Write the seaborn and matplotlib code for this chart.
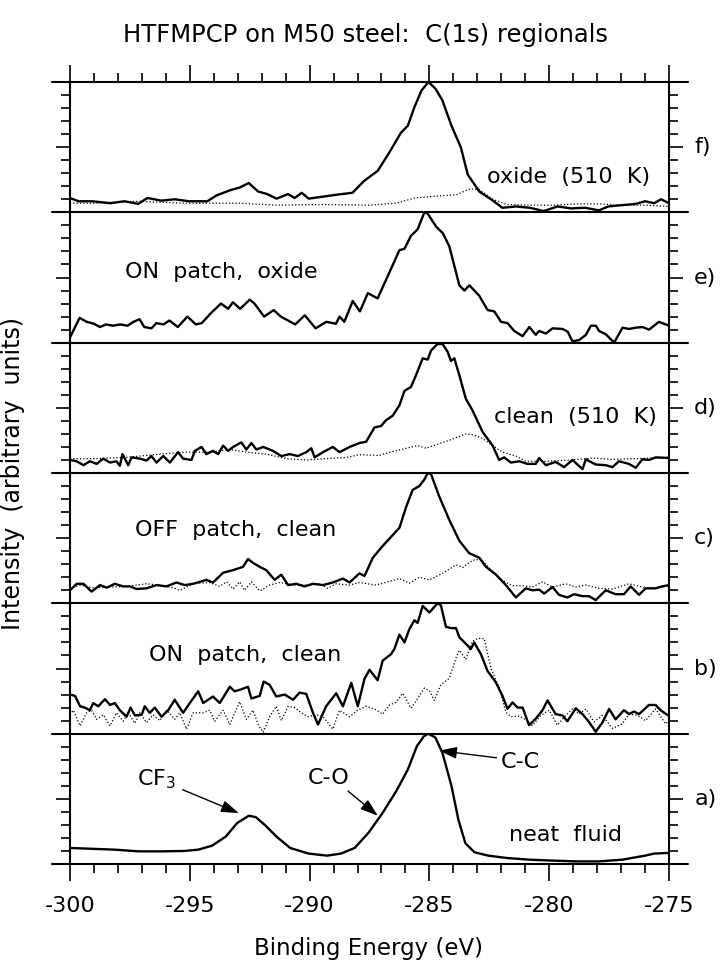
import matplotlib
matplotlib.use("Agg")
import matplotlib.pyplot as plt
import seaborn as sns
from matplotlib.lines import Line2D
from matplotlib.ticker import MultipleLocator, FixedLocator

# ---------------- data (binding energy in eV, intensity as fraction of panel height) ----------------
panel_names = ["f)", "e)", "d)", "c)", "b)", "a)"]
panel_texts = ["oxide  (510  K)", "ON  patch,  oxide", "clean  (510  K)",
               "OFF  patch,  clean", "ON  patch,  clean", "neat  fluid"]
x_ticks = [-300, -295, -290, -285, -280, -275]

# f) oxide (510 K)
f_solid_E = [-300.0, -299.65, -299.08, -298.31, -297.73, -297.15, -296.77, -296.19, -295.62, -295.04,
             -294.27, -293.88, -293.31, -292.92, -292.54, -292.15, -291.77, -291.38, -290.90, -290.62,
             -290.33, -290.04, -289.46, -288.88, -288.21, -287.73, -287.15, -286.67, -286.19, -285.90,
             -285.62, -285.33, -285.04, -284.75, -284.46, -284.08, -283.69, -283.40, -282.92, -282.35,
             -281.96, -281.38, -280.81, -280.23, -279.65, -279.08, -278.50, -277.92, -277.54, -276.96,
             -276.38, -276.00, -275.62, -275.33, -275.0]
f_solid_I = [.11, .085, .085, .07, .085, .065, .11, .09, .10, .085,
             .085, .13, .17, .19, .225, .16, .14, .105, .14, .11,
             .15, .105, .12, .135, .15, .24, .32, .46, .61, .665,
             .81, .935, 1.0, .95, .86, .665, .50, .29, .16, .09,
             .035, .045, .035, .01, .045, .03, .035, .015, .045, .055,
             .065, .085, .07, .10, .07]
f_dot_E = [-300.0, -299.08, -297.15, -295.23, -293.88, -292.92, -291.38, -289.46, -287.54, -286.38,
           -285.62, -284.65, -283.88, -283.31, -282.92, -282.35, -281.77, -280.81, -279.85, -278.88,
           -277.92, -276.96, -276.0, -275.0]
f_dot_I = [.07, .07, .085, .07, .07, .07, .055, .06, .055, .07,
           .11, .125, .135, .18, .175, .10, .06, .055, .055, .065,
           .065, .055, .055, .045]

# e) ON patch, oxide
e_solid_E = [-300.0, -299.6, -299.3, -299.0, -298.75, -298.5, -298.2, -297.9, -297.6, -297.35,
             -297.1, -296.9, -296.6, -296.4, -296.1, -295.85, -295.5, -295.1, -294.75, -294.5,
             -294.1, -293.7, -293.4, -293.2, -292.9, -292.5, -292.3, -291.9, -291.5, -291.2,
             -290.9, -290.6, -290.2, -289.75, -289.3, -288.9, -288.75, -288.55, -288.2, -287.9,
             -287.57, -287.16, -286.74, -286.25, -286.04, -285.77, -285.49, -285.21, -285.07, -284.72,
             -284.44, -284.17, -283.75, -283.54, -283.33, -282.92, -282.57, -282.29, -282.01, -281.74,
             -281.46, -281.11, -280.83, -280.56, -280.42, -280.14, -279.86, -279.44, -279.23, -279.03,
             -278.75, -278.47, -278.26, -278.05, -277.92, -277.64, -277.29, -276.94, -276.67, -276.39,
             -276.11, -275.83, -275.42, -275.0]
e_solid_I = [.04, .19, .16, .145, .12, .14, .13, .14, .13, .16,
             .18, .12, .11, .15, .14, .17, .12, .20, .14, .15,
             .23, .30, .26, .31, .26, .33, .30, .20, .25, .20,
             .17, .14, .21, .11, .16, .145, .20, .16, .32, .24,
             .38, .34, .51, .71, .72, .82, .87, 1.0, .99, .89,
             .84, .74, .44, .40, .44, .36, .25, .24, .16, .15,
             .09, .05, .12, .06, .09, .07, .11, .105, .085, .01,
             .02, .06, .13, .13, .09, .065, 0.0, .115, .105, .115,
             .12, .10, .16, .13]

# d) clean (510 K)
d_solid_E = [-300.0, -299.72, -299.44, -299.17, -298.89, -298.61, -298.33, -298.06, -297.92, -297.81,
             -297.57, -297.43, -297.08, -296.81, -296.60, -296.39, -296.11, -295.83, -295.49, -295.28,
             -294.93, -294.79, -294.51, -294.31, -294.03, -293.82, -293.61, -293.40, -293.19, -292.85,
             -292.64, -292.43, -292.22, -291.94, -291.53, -291.18, -290.83, -290.49, -290.14, -289.93,
             -289.79, -289.44, -289.03, -288.75, -288.33, -287.92, -287.64, -287.29, -287.02, -286.81,
             -286.53, -286.25, -286.04, -285.77, -285.56, -285.28, -285.07, -284.93, -284.66, -284.45,
             -284.24, -284.10, -283.96, -283.75, -283.48, -283.20, -282.78, -282.36, -282.09, -281.88,
             -281.60, -281.25, -280.91, -280.56, -280.42, -280.14, -279.73, -279.38, -279.03, -278.61,
             -278.47, -278.06, -277.64, -277.36, -277.09, -276.67, -276.39, -276.11, -275.83, -275.56,
             -275.0]
d_solid_I = [.10, .09, .06, .09, .07, .11, .08, .09, .055, .145,
             .06, .12, .11, .095, .13, .08, .13, .08, .16, .11,
             .10, .17, .20, .145, .17, .145, .21, .17, .20, .235,
             .18, .23, .18, .20, .17, .13, .145, .13, .16, .19,
             .12, .16, .20, .16, .20, .23, .24, .35, .36, .405,
             .44, .52, .63, .66, .75, .88, .87, .94, .99, .99,
             .93, .86, .88, .75, .57, .48, .315, .21, .10, .12,
             .08, .09, .07, .07, .115, .06, .085, .045, .10, .03,
             .105, .065, .06, .045, .09, .07, .04, .105, .10, .12,
             .115]
d_dot_E = [-300.0, -299.03, -297.64, -296.25, -295.14, -294.17, -293.33, -292.64, -291.81, -290.97,
           -290.14, -289.31, -288.47, -287.92, -287.09, -286.53, -285.97, -285.49, -285.14, -284.59,
           -284.03, -283.48, -283.13, -282.78, -282.36, -281.95, -281.39, -280.98, -280.14, -279.03,
           -278.20, -277.36, -276.39, -275.0]
d_dot_I = [.11, .11, .12, .145, .16, .16, .18, .16, .145, .11,
           .10, .11, .12, .14, .135, .165, .19, .21, .19, .225,
           .26, .30, .29, .265, .21, .16, .13, .09, .09, .10,
           .115, .105, .11, .12]

# c) OFF patch, clean
c_solid_E = [-300.0, -299.72, -299.44, -299.10, -298.75, -298.47, -298.13, -297.78, -297.50, -297.22,
             -296.81, -296.39, -295.97, -295.56, -295.21, -294.86, -294.31, -294.03, -293.61, -293.19,
             -292.78, -292.57, -292.36, -292.08, -291.81, -291.46, -291.18, -290.90, -290.56, -290.21,
             -289.86, -289.44, -289.03, -288.61, -288.33, -287.92, -287.71, -287.36, -286.95, -286.60,
             -286.25, -285.97, -285.70, -285.42, -285.21, -285.07, -284.93, -284.59, -284.17, -283.75,
             -283.34, -282.92, -282.64, -282.22, -281.81, -281.39, -280.98, -280.70, -280.42, -280.21,
             -279.86, -279.59, -279.24, -278.96, -278.61, -278.34, -278.06, -277.64, -277.23, -276.88,
             -276.60, -276.25, -275.98, -275.56, -275.28, -275.0]
c_solid_I = [.10, .15, .15, .09, .14, .12, .15, .13, .13, .11,
             .115, .14, .13, .16, .14, .15, .18, .16, .235, .255,
             .28, .34, .31, .28, .255, .18, .22, .14, .15, .13,
             .15, .14, .16, .19, .16, .23, .21, .35, .44, .51,
             .58, .74, .87, .90, .95, 1.0, .99, .82, .64, .48,
             .385, .35, .28, .22, .14, .045, .115, .10, .105, .075,
             .125, .065, .045, .07, .055, .055, .025, .10, .07, .07,
             .13, .065, .115, .115, .13, .14]
c_dot_E = [-300.0, -299.58, -299.03, -297.64, -296.81, -296.25, -295.69, -295.42, -294.86, -294.17,
           -293.75, -293.47, -293.19, -292.92, -292.71, -292.43, -292.08, -291.67, -291.25, -290.69,
           -290.14, -289.58, -289.24, -288.89, -288.33, -287.92, -287.23, -286.25, -285.84, -285.42,
           -285.00, -284.45, -283.89, -283.61, -283.20, -282.85, -282.36, -281.95, -281.53, -281.11,
           -280.70, -280.28, -279.86, -279.31, -278.89, -278.47, -277.92, -277.36, -276.67, -276.11,
           -275.70, -275.0]
c_dot_I = [.115, .14, .12, .13, .15, .14, .12, .10, .15, .16,
           .13, .165, .11, .165, .10, .165, .095, .14, .16, .14,
           .14, .15, .115, .15, .14, .16, .14, .19, .155, .20,
           .18, .23, .295, .275, .33, .34, .245, .175, .135, .135,
           .125, .165, .125, .15, .125, .14, .115, .11, .15, .125,
           .115, .135]

# b) ON patch, clean
b_solid_E = [-300.0, -299.79, -299.58, -299.38, -299.17, -299.03, -298.82, -298.54, -298.33, -298.13,
             -297.92, -297.64, -297.47, -297.29, -297.01, -296.88, -296.67, -296.46, -296.18, -295.90,
             -295.63, -295.28, -295.00, -294.65, -294.44, -294.03, -293.75, -293.33, -293.13, -292.85,
             -292.57, -292.43, -292.08, -291.92, -291.67, -291.39, -291.04, -290.69, -290.42, -290.14,
             -289.86, -289.65, -289.31, -288.89, -288.61, -288.26, -287.99,
             -287.71, -287.50, -287.16, -286.95, -286.60, -286.46, -286.25, -286.04, -285.84, -285.63,
             -285.49, -285.28, -285.00, -284.66, -284.52, -284.31, -284.10, -283.89, -283.75, -283.48,
             -283.27, -283.13, -282.85, -282.57, -282.23, -281.95, -281.74, -281.53, -281.32, -281.11,
             -280.84, -280.56, -280.28, -280.07, -279.73, -279.45, -279.24, -278.89, -278.61, -278.34,
             -278.06, -277.78, -277.50, -277.23, -276.88, -276.67, -276.46, -276.25, -275.84, -275.56,
             -275.35, -275.0]
b_solid_I = [.30, .29, .21, .20, .18, .235, .21, .265, .22, .235,
             .18, .13, .20, .14, .145, .21, .16, .20, .13, .18,
             .26, .16, .235, .325, .235, .285, .235, .36, .325, .34,
             .36, .27, .29, .40, .375, .285, .30, .26, .315, .305,
             .16, .07, .21, .31, .21, .39, .21,
             .42, .49, .41, .56, .61, .65, .76, .70, .80, .87,
             .85, .98, .93, 1.0, .985, .82, .81, .81, .74, .69,
             .65, .70, .61, .48, .395, .29, .19, .24, .20, .20,
             .065, .115, .18, .255, .15, .14, .095, .195, .15, .09,
             .015, .085, .19, .11, .18, .15, .17, .15, .22, .22,
             .18, .135]
b_dot_E = [-300.0, -299.86, -299.58, -299.31, -299.10, -298.89, -298.61, -298.33, -298.06, -297.78,
           -297.57, -297.29, -297.08, -296.81, -296.53, -296.25, -295.97, -295.63, -295.42, -295.14,
           -294.86, -294.44, -294.17, -293.96, -293.61, -293.33, -292.92, -292.64, -292.36, -292.15,
           -291.94, -291.67, -291.39, -291.18, -290.90, -290.63, -290.35, -290.07, -289.72, -289.44,
           -289.03, -288.75, -288.33, -287.99,
           -287.64, -287.30, -286.95, -286.67, -286.39, -286.11, -285.77, -285.49, -285.21, -285.00,
           -284.80, -284.52, -284.17, -283.89, -283.75, -283.48, -283.20, -282.99, -282.71, -282.43,
           -282.09, -281.81, -281.60, -281.25, -280.91, -280.70, -280.35, -280.00, -279.66, -279.31,
           -279.03, -278.75, -278.47, -278.13, -277.78, -277.36, -276.95, -276.67, -276.32, -275.98,
           -275.56, -275.14, -275.0]
b_dot_I = [.145, .18, .06, .16, .18, .11, .145, .06, .16, .095,
           .16, .08, .16, .085, .145, .10, .18, .11, .16, .035,
           .16, .16, .18, .095, .18, .07, .245, .11, .18, .07,
           .01, .13, .21, .10, .21, .20, .16, .13, .145, .13,
           .035, .18, .13, .18,
           .21, .19, .15, .22, .24, .31, .195, .27, .35, .33,
           .255, .375, .425, .58, .64, .57, .71, .73, .73, .50,
           .355, .165, .13, .135, .10, .06, .14, .18, .065, .14,
           .19, .15, .19, .09, .14, .04, .075, .15, .14, .10,
           .19, .075, .10]

# a) neat fluid
a_solid_E = [-300.0, -298.12, -297.15, -296.19, -295.23, -294.65, -294.08, -293.5, -293.02, -292.54,
             -292.25, -291.87, -291.38, -290.81, -290.04, -289.27, -288.69, -288.12, -287.54, -286.96,
             -286.38, -285.90, -285.52, -285.23, -285.04, -284.75, -284.46, -284.08, -283.79, -283.50,
             -283.12, -282.54, -281.77, -280.81, -279.85, -278.88, -277.92, -276.96, -276.0, -275.62,
             -275.0]
a_solid_I = [.123, .11, .097, .097, .10, .11, .14, .21, .315, .37,
             .36, .30, .21, .123, .08, .064, .08, .123, .24, .39,
             .56, .725, .905, .98, 1.0, .97, .855, .60, .34, .16,
             .09, .064, .046, .033, .026, .02, .02, .033, .064, .08,
             .085]

solid_curves = [(f_solid_E, f_solid_I), (e_solid_E, e_solid_I), (d_solid_E, d_solid_I),
                (c_solid_E, c_solid_I), (b_solid_E, b_solid_I), (a_solid_E, a_solid_I)]
dotted_curves = [(f_dot_E, f_dot_I), None, (d_dot_E, d_dot_I),
                 (c_dot_E, c_dot_I), (b_dot_E, b_dot_I), None]
# text anchor (energy, fraction) for each panel label
text_pos = [(-279.2, 0.27), (-293.7, 0.54), (-278.9, 0.43), (-293.1, 0.56), (-292.7, 0.60), (-279.3, 0.225)]

# ---------------- style ----------------
sns.set_theme(style="ticks")
plt.rcParams['font.family'] = ['DejaVu Sans']
plt.rcParams['mathtext.fontset'] = 'dejavusans'
plt.rcParams['mathtext.default'] = 'regular'
plt.rcParams['axes.unicode_minus'] = False
for k in ['text.color', 'axes.labelcolor', 'xtick.color', 'ytick.color', 'axes.edgecolor']:
    plt.rcParams[k] = 'black'

W, H = 722, 964
fig = plt.figure(figsize=(W / 100, H / 100), dpi=100)
fig.patch.set_facecolor('white')

L, R = 70 / W, 669 / W
T, B = 1 - 82 / H, 1 - 864 / H
h = (T - B) / 6
LW = 1.5
FS = 16

axes = []
for i in range(6):
    ax = fig.add_axes([L, T - (i + 1) * h, R - L, h])
    ax.set_facecolor('white')
    axes.append(ax)
    sE, sI = solid_curves[i]
    if dotted_curves[i] is not None:
        dE, dI = dotted_curves[i]
        sns.lineplot(x=dE, y=dI, ax=ax, color='black', linewidth=0.9, linestyle=':',
                     estimator=None, sort=False)
    sns.lineplot(x=sE, y=sI, ax=ax, color='black', linewidth=1.7,
                 estimator=None, sort=False)
    ax.set_xlim(-300, -275)
    ax.set_ylim(0, 1.0)
    ax.set_xlabel('')
    ax.set_ylabel('')
    for s in ['top', 'bottom']:
        ax.spines[s].set_visible(False)
    for s in ['left', 'right']:
        ax.spines[s].set_linewidth(LW)
        ax.spines[s].set_color('black')
    ax.yaxis.set_major_locator(FixedLocator([0.5]))
    ax.yaxis.set_minor_locator(FixedLocator([.1, .2, .3, .4, .6, .7, .8, .9]))
    ax.tick_params(axis='y', which='both', direction='out', left=True, right=True,
                   labelleft=False, labelright=False, width=1.2, color='black')
    ax.tick_params(axis='y', which='major', length=10)
    ax.tick_params(axis='y', which='minor', length=6.5)
    ax.xaxis.set_major_locator(FixedLocator(x_ticks))
    ax.xaxis.set_minor_locator(MultipleLocator(1))
    ax.tick_params(axis='x', which='both', bottom=False, top=False,
                   labelbottom=False, labeltop=False)
    ax.text(1.042, 0.5, panel_names[i], transform=ax.transAxes, ha='left', va='center',
            fontsize=FS)
    tx, ty = text_pos[i]
    ax.text(tx, ty, panel_texts[i], ha='center', va='center', fontsize=FS)

# top axis ticks
axes[0].tick_params(axis='x', which='both', top=True, direction='out', width=1.2, color='black')
axes[0].tick_params(axis='x', which='major', length=12)
axes[0].tick_params(axis='x', which='minor', length=6.5)
# bottom axis ticks + labels
axes[-1].tick_params(axis='x', which='both', bottom=True, labelbottom=True, direction='out',
                     width=1.2, color='black', labelsize=16, pad=11)
axes[-1].tick_params(axis='x', which='major', length=12)
axes[-1].tick_params(axis='x', which='minor', length=6.5)

# horizontal separators extending beyond the frame
for k in range(7):
    y = T - k * h
    fig.add_artist(Line2D([52 / W, 688 / W], [y, y], transform=fig.transFigure,
                          color='black', linewidth=LW))

# annotations in panel a
axa = axes[-1]
arrow = dict(arrowstyle='-|>,head_length=0.9,head_width=0.3', color='black', lw=1.0,
             shrinkA=0, shrinkB=0)
axa.text(-296.4, 0.65, 'CF$_3$', ha='center', va='center', fontsize=FS)
axa.annotate('', xy=(-292.95, 0.39), xytext=(-295.3, 0.57), arrowprops=arrow)
axa.text(-289.2, 0.66, 'C-O', ha='center', va='center', fontsize=FS)
axa.annotate('', xy=(-287.15, 0.37), xytext=(-288.4, 0.56), arrowprops=arrow)
axa.text(-281.2, 0.78, 'C-C', ha='center', va='center', fontsize=FS)
axa.annotate('', xy=(-284.6, 0.87), xytext=(-282.2, 0.815), arrowprops=arrow)

# titles and axis labels
fig.text(0.506, 1 - 35 / H, 'HTFMPCP on M50 steel:  C(1s) regionals', ha='center', va='center',
         fontsize=17.5)
fig.text(0.51, 1 - 949 / H, 'Binding Energy (eV)', ha='center', va='center', fontsize=16.5)
fig.text(13 / W, 1 - 473 / H, 'Intensity  (arbitrary  units)', ha='center', va='center',
         rotation=90, fontsize=17)

fig.savefig('out.png', dpi=100, facecolor='white')
